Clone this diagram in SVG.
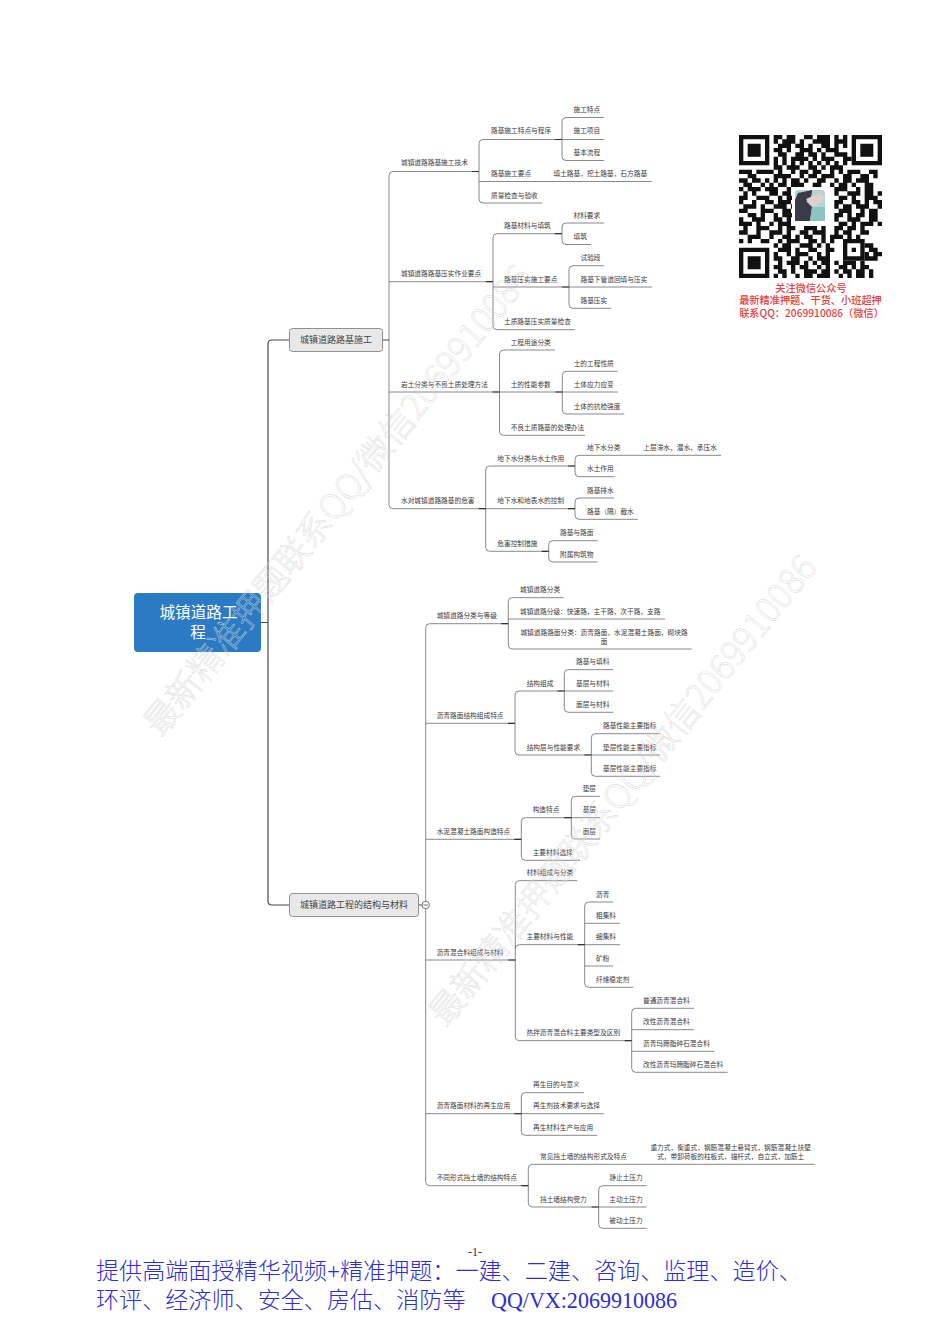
<svg xmlns="http://www.w3.org/2000/svg" width="950" height="1333" viewBox="0 0 950 1333">
<style>
text{font-family:"Noto Sans CJK SC","Liberation Sans",sans-serif}
.t{font-size:6.7px;fill:#3a3a3a}
.c{text-anchor:middle}
.l0{fill:none;stroke:#4a4a4a;stroke-width:1.2}
.l{fill:none;stroke:#6a6a6a;stroke-width:.8}
.s{fill:none;stroke:#333;stroke-width:1.2}
.m{font-size:9px;fill:#444}
.wm{font-size:34.5px;font-weight:300;fill:none;stroke:#d6d6d6;stroke-width:.5;opacity:.9}
.red{font-size:10.2px;fill:#e8403c;text-anchor:middle;font-weight:500}
.foot{font-family:"Liberation Serif","Noto Sans CJK SC",serif;font-size:23.1px;font-weight:300;fill:#2d2dd2}
</style>
<rect width="950" height="1333" fill="#fff"/>
<g id="connectors">
<path class="l0" d="M261 622.5H268M289 340H272Q268 340 268 344V901Q268 905 272 905H289M383 340H389M419 905H422"/>
<path class="l" d="M479 171.5H393Q389 171.5 389 175.5V504.7Q389 508.7 393 508.7H485.7M389 281.7H493M389 392H499.5"/>
<path class="l" d="M562 139.5H483Q479 139.5 479 143.5V199Q479 203 483 203H542M479 181.5H652"/>
<path class="l" d="M604 117.5H566Q562 117.5 562 121.5V156.5Q562 160.5 566 160.5H604M562 139.5H604"/>
<path class="l" d="M562 233.7H497Q493 233.7 493 237.7V325.7Q493 329.7 497 329.7H575M493 287H569"/>
<path class="l" d="M604 223H566Q562 223 562 227V240.5Q562 244.5 566 244.5H591"/>
<path class="l" d="M604 265.7H573Q569 265.7 569 269.7V304.3Q569 308.3 573 308.3H611M569 287H652"/>
<path class="l" d="M555 350H503.5Q499.5 350 499.5 354V431.3Q499.5 435.3 503.5 435.3H585M499.5 392H562.3"/>
<path class="l" d="M617.7 371.3H566.3Q562.3 371.3 562.3 375.3V410Q562.3 414 566.3 414H624.3M562.3 392H617.7"/>
<path class="l" d="M575 466H489.7Q485.7 466 485.7 470V547.3Q485.7 551.3 489.7 551.3H548.7M485.7 508.7H575"/>
<path class="l" d="M721 455.3H579Q575 455.3 575 459.3V472.7Q575 476.7 579 476.7H615"/>
<path class="l" d="M614 498H579Q575 498 575 502V515.3Q575 519.3 579 519.3H637.7"/>
<path class="l" d="M597.7 540.7H552.7Q548.7 540.7 548.7 544.7V558Q548.7 562 552.7 562H597.7"/>
<path class="l" d="M508.3 623.7H429.7Q425.7 623.7 425.7 627.7V1181.7Q425.7 1185.7 429.7 1185.7H528.3M425.7 723.3H515M425.7 839.3H521.3M425.7 960H515.3M425.7 1113.7H521.3"/>
<path class="l" d="M563.7 597.7H512.3Q508.3 597.7 508.3 601.7V645Q508.3 649 512.3 649H691.7M508.3 619H665"/>
<path class="l" d="M564.3 691H519Q515 691 515 695V751Q515 755 519 755H591.3"/>
<path class="l" d="M613.3 669.7H568.3Q564.3 669.7 564.3 673.7V708.3Q564.3 712.3 568.3 712.3H613.3M564.3 691H613.3"/>
<path class="l" d="M660 733.7H595.3Q591.3 733.7 591.3 737.7V772.3Q591.3 776.3 595.3 776.3H660M591.3 755H660"/>
<path class="l" d="M571.3 817.7H525.3Q521.3 817.7 521.3 821.7V856.3Q521.3 860.3 525.3 860.3H580"/>
<path class="l" d="M600 796.3H575.3Q571.3 796.3 571.3 800.3V835Q571.3 839 575.3 839H600M571.3 817.7H600"/>
<path class="l" d="M577.3 880.7H519.3Q515.3 880.7 515.3 884.7V1036.7Q515.3 1040.7 519.3 1040.7H631.7M515.3 948.7Q515.3 944.7 519.3 944.7H584.7"/>
<path class="l" d="M613.3 902H588.7Q584.7 902 584.7 906V983.3Q584.7 987.3 588.7 987.3H633.3M584.7 923.3H620M584.7 944.7H620M584.7 966H613.3"/>
<path class="l" d="M694 1008.3H635.7Q631.7 1008.3 631.7 1012.3V1068.3Q631.7 1072.3 635.7 1072.3H727.7M631.7 1029.7H694M631.7 1051.3H714.3"/>
<path class="l" d="M584 1092.7H525.3Q521.3 1092.7 521.3 1096.7V1131.3Q521.3 1135.3 525.3 1135.3H597.3M521.3 1113.7H604"/>
<path class="l" d="M815 1164.3H532.3Q528.3 1164.3 528.3 1168.3V1203Q528.3 1207 532.3 1207H598.7"/>
<path class="l" d="M646.7 1185.7H602.7Q598.7 1185.7 598.7 1189.7V1224.3Q598.7 1228.3 602.7 1228.3H646.7M598.7 1207H646.7"/>
<path class="s" d="M472 171.5H479M555 139.5H562M486 281.7H493M562 287H569M555 233.7H562M492.5 392H499.5M555.3 392H562.3M478.7 508.7H485.7M568 466H575M568 508.7H575M541.7 551.3H548.7M501.3 623.7H508.3M508 723.3H515M557.3 691H564.3M584.3 755H591.3M514.3 839.3H521.3M564.3 817.7H571.3M508.3 960H515.3M577.7 944.7H584.7M624.7 1040.7H631.7M514.3 1113.7H521.3M521.3 1185.7H528.3M591.7 1207H598.7"/>
</g>
<g id="root"><rect x="134" y="593" width="127" height="59" rx="4" fill="#2b7bc4"/>
<text class="c" x="198.5" y="617.5" font-size="15.6" fill="#fff">城镇道路工</text><text class="c" x="198" y="638" font-size="15.6" fill="#fff">程</text></g>
<g id="branch1"><rect x="289.5" y="328.5" width="93" height="23" rx="3" fill="#e8e8e8" stroke="#777" stroke-width=".8"/><text class="m" x="300" y="343.2">城镇道路路基施工</text></g>
<g id="branch2"><rect x="289.5" y="893.5" width="129" height="23" rx="3" fill="#e8e8e8" stroke="#777" stroke-width=".8"/><text class="m" x="300" y="908.2">城镇道路工程的结构与材料</text></g>
<g id="toggle"><circle cx="425.7" cy="905" r="3.7" fill="#fff" stroke="#555" stroke-width=".8"/><path d="M423.4 905H428" stroke="#555" stroke-width=".8"/></g>

<g id="a1"><text class="t" x="401" y="165.2">城镇道路路基施工技术</text></g>
<g id="a11"><text class="t" x="491" y="133.3">路基施工特点与程序</text></g>
<g id="a111"><text class="t" x="573.5" y="112">施工特点</text></g>
<g id="a112"><text class="t" x="573.5" y="133.3">施工项目</text></g>
<g id="a113"><text class="t" x="573.5" y="154.7">基本流程</text></g>
<g id="a12"><text class="t" x="491" y="176">路基施工要点</text></g>
<g id="a121"><text class="t" x="553.5" y="176">填土路基，挖土路基，石方路基</text></g>
<g id="a13"><text class="t" x="491" y="197.5">质量检查与验收</text></g>
<g id="a2"><text class="t" x="401" y="276">城镇道路路基压实作业要点</text></g>
<g id="a21"><text class="t" x="504" y="228">路基材料与填筑</text></g>
<g id="a211"><text class="t" x="573.5" y="217.5">材料要求</text></g>
<g id="a212"><text class="t" x="573.5" y="239">填筑</text></g>
<g id="a22"><text class="t" x="504" y="281.5">路基压实施工要点</text></g>
<g id="a221"><text class="t" x="580.5" y="260">试验段</text></g>
<g id="a222"><text class="t" x="580.5" y="281.5">路基下管道回填与压实</text></g>
<g id="a223"><text class="t" x="580.5" y="302.7">路基压实</text></g>
<g id="a23"><text class="t" x="504" y="324">土质路基压实质量检查</text></g>
<g id="a3"><text class="t" x="401" y="386.5">岩土分类与不良土质处理方法</text></g>
<g id="a31"><text class="t" x="510.7" y="344.5">工程用途分类</text></g>
<g id="a32"><text class="t" x="510.7" y="386.5">土的性能参数</text></g>
<g id="a321"><text class="t" x="573.7" y="365.7">土的工程性质</text></g>
<g id="a322"><text class="t" x="573.7" y="386.5">土体应力应变</text></g>
<g id="a323"><text class="t" x="573.7" y="408.5">土体的抗检强度</text></g>
<g id="a33"><text class="t" x="510.7" y="429.7">不良土质路基的处理办法</text></g>
<g id="a4"><text class="t" x="401" y="503">水对城镇道路路基的危害</text></g>
<g id="a41"><text class="t" x="497.3" y="460.5">地下水分类与水土作用</text></g>
<g id="a411"><text class="t" x="587" y="449.7">地下水分类</text></g>
<g id="a412"><text class="t" x="643.3" y="449.7">上层滞水，潜水，承压水</text></g>
<g id="a413"><text class="t" x="587" y="471">水土作用</text></g>
<g id="a42"><text class="t" x="497.3" y="503">地下水和地表水的控制</text></g>
<g id="a421"><text class="t" x="587" y="492.5">路基排水</text></g>
<g id="a422"><text class="t" x="587" y="513.7">路基（隔）截水</text></g>
<g id="a43"><text class="t" x="497.3" y="545.7">危害控制措施</text></g>
<g id="a431"><text class="t" x="560" y="535">路基与路面</text></g>
<g id="a432"><text class="t" x="560" y="556.5">附属构筑物</text></g>

<g id="b1"><text class="t" x="436.7" y="618">城镇道路分类与等级</text></g>
<g id="b11"><text class="t" x="520" y="592">城镇道路分类</text></g>
<g id="b12"><text class="t" x="520" y="613.5">城镇道路分级：快速路，主干路，次干路，支路</text></g>
<g id="b13"><text class="t c" x="604" y="634.7">城镇道路路面分类：沥青路面，水泥混凝土路面，砌块路</text><text class="t c" x="604" y="644">面</text></g>
<g id="b2"><text class="t" x="436.7" y="717.7">沥青路面结构组成特点</text></g>
<g id="b21"><text class="t" x="526.7" y="685.5">结构组成</text></g>
<g id="b211"><text class="t" x="576" y="664">路基与填料</text></g>
<g id="b212"><text class="t" x="576" y="685.5">基层与材料</text></g>
<g id="b213"><text class="t" x="576" y="706.7">面层与材料</text></g>
<g id="b22"><text class="t" x="526.7" y="749.5">结构层与性能要求</text></g>
<g id="b221"><text class="t" x="603" y="728">路基性能主要指标</text></g>
<g id="b222"><text class="t" x="603" y="749.5">垫层性能主要指标</text></g>
<g id="b223"><text class="t" x="603" y="770.7">基层性能主要指标</text></g>
<g id="b3"><text class="t" x="436.7" y="833.7">水泥混凝土路面构造特点</text></g>
<g id="b31"><text class="t" x="532.7" y="812">构造特点</text></g>
<g id="b311"><text class="t" x="582.7" y="790.7">垫层</text></g>
<g id="b312"><text class="t" x="582.7" y="812">基层</text></g>
<g id="b313"><text class="t" x="582.7" y="833.5">面层</text></g>
<g id="b32"><text class="t" x="532.7" y="854.7">主要材料选择</text></g>
<g id="b4"><text class="t" x="436.7" y="954.5">沥青混合料组成与材料</text></g>
<g id="b41"><text class="t" x="526.5" y="875">材料组成与分类</text></g>
<g id="b42"><text class="t" x="526.5" y="939">主要材料与性能</text></g>
<g id="b421"><text class="t" x="596" y="896.5">沥青</text></g>
<g id="b422"><text class="t" x="596" y="917.7">粗集料</text></g>
<g id="b423"><text class="t" x="596" y="939">细集料</text></g>
<g id="b424"><text class="t" x="596" y="960.5">矿粉</text></g>
<g id="b425"><text class="t" x="596" y="981.7">纤维稳定剂</text></g>
<g id="b43"><text class="t" x="526.5" y="1035">热拌沥青混合料主要类型及区别</text></g>
<g id="b431"><text class="t" x="643" y="1002.7">普通沥青混合料</text></g>
<g id="b432"><text class="t" x="643" y="1024">改性沥青混合料</text></g>
<g id="b433"><text class="t" x="643" y="1045.7">沥青玛蹄脂碎石混合料</text></g>
<g id="b434"><text class="t" x="643" y="1066.7">改性沥青玛蹄脂碎石混合料</text></g>
<g id="b5"><text class="t" x="436.7" y="1108">沥青路面材料的再生应用</text></g>
<g id="b51"><text class="t" x="533" y="1087">再生目的与意义</text></g>
<g id="b52"><text class="t" x="533" y="1108">再生剂技术要求与选择</text></g>
<g id="b53"><text class="t" x="533" y="1129.7">再生材料生产与应用</text></g>
<g id="b6"><text class="t" x="436.7" y="1180">不同形式挡土墙的结构特点</text></g>
<g id="b61"><text class="t" x="540" y="1158.7">常见挡土墙的结构形式及特点</text></g>
<g id="b611"><text class="t c" x="730.7" y="1149.7">重力式，衡重式，钢筋混凝土悬臂式，钢筋混凝土扶壁</text><text class="t c" x="730.7" y="1159">式，带卸荷板的柱板式，锚杆式，自立式，加筋土</text></g>
<g id="b62"><text class="t" x="540" y="1201.5">挡土墙结构受力</text></g>
<g id="b621"><text class="t" x="609.3" y="1180">静止土压力</text></g>
<g id="b622"><text class="t" x="609.3" y="1201.5">主动土压力</text></g>
<g id="b623"><text class="t" x="609.3" y="1222.7">被动土压力</text></g>

<g id="qr" transform="translate(739 135) scale(4.333)" fill="none" stroke="#111" stroke-width="1">
<path d="M.5 .5h6v6h-6zM26.5 .5h6v6h-6zM.5 26.5h6v6h-6zM24.5 24.5h4v4h-4z"/>
<path fill="#111" stroke="none" d="M2 2h3v3h-3zM28 2h3v3h-3zM2 28h3v3h-3zM26 26h1v1h-1z"/>
<path d="M8 .5h2m1 0h2m2 0h2m1 0h3m1 0h1m1 0h1
M8 1.5h1m1 0h3m1 0h1m2 0h4m1 0h3
M9 2.5h3m1 0h2m1 0h1m2 0h2m1 0h1m1 0h1
M8 3.5h2m1 0h1m2 0h3m1 0h1m1 0h3
M9 4.5h2m2 0h2m1 0h2m1 0h1m2 0h3
M8 5.5h1m1 0h1m1 0h4m1 0h1m1 0h3m2 0h2
M8 6.5h1m1 0h1m1 0h1m1 0h1m1 0h1m1 0h1m1 0h1m1 0h1m1 0h1
M8 7.5h2m1 0h3m2 0h2m1 0h1m1 0h3
M0 8.5h3m1 0h4m1 0h1m2 0h1m1 0h2m1 0h2m2 0h1m1 0h1m1 0h3m2 0h2
M2 9.5h2m4 0h4m2 0h1m1 0h2m1 0h3m2 0h2m2 0h2m1 0h1
M0 10.5h2m1 0h2m1 0h1m1 0h1m1 0h1m1 0h2m1 0h1m2 0h2m2 0h1m1 0h2m1 0h3
M1 11.5h2m2 0h1m1 0h1m1 0h2m1 0h3m2 0h2m2 0h1m1 0h2m1 0h1m2 0h2
M0 12.5h1m1 0h3m1 0h3m2 0h1m1 0h2M22 12.5h3m2 0h1m1 0h2
M1 13.5h1m1 0h1m3 0h2m1 0h2M22 13.5h1m2 0h3m1 0h2m1 0h1
M0 14.5h2m2 0h3m2 0h1m1 0h2M23 14.5h2m1 0h1m2 0h3
M0 15.5h1m2 0h1m2 0h2m1 0h3M22 15.5h2m2 0h2m1 0h1m1 0h2
M1 16.5h3m1 0h1m2 0h3m1 0h1M22 16.5h1m1 0h2m1 0h3m2 0h1
M0 17.5h2m3 0h3m2 0h2M23 17.5h3m2 0h1m1 0h2
M2 18.5h2m1 0h1m2 0h1m1 0h3M22 18.5h2m1 0h1m1 0h2m1 0h2
M0 19.5h1m2 0h3m2 0h2m1 0h1M22 19.5h1m2 0h3m2 0h2
M0 20.5h3m1 0h1m2 0h1m1 0h3M23 20.5h2m1 0h1m1 0h3m1 0h1
M1 21.5h1m2 0h3m2 0h1m1 0h2m2 0h3m1 0h1m2 0h2m1 0h2m1 0h1
M0 22.5h2m2 0h1m2 0h3m1 0h1m2 0h2m1 0h3m2 0h1m1 0h2m2 0h2
M2 23.5h3m2 0h1m2 0h2m1 0h1m1 0h2m2 0h1m1 0h3m1 0h1m1 0h1
M0 24.5h1m1 0h1m2 0h2m2 0h1m1 0h3m2 0h2m1 0h1m1 0h1
M8 25.5h1m1 0h2m2 0h3m1 0h1m1 0h1M29 25.5h2
M9 26.5h3m1 0h1m2 0h2m2 0h2M30 26.5h2
M8 27.5h1m2 0h1m1 0h3m2 0h1m1 0h1M29 27.5h1m1 0h2
M8 28.5h2m2 0h2m2 0h1m1 0h3M29 28.5h3
M9 29.5h1m1 0h3m1 0h1m1 0h1m1 0h2m1 0h1m1 0h3m1 0h1
M8 30.5h2m2 0h1m1 0h2m2 0h1m1 0h1m2 0h2m1 0h1m1 0h2
M9 31.5h2m1 0h1m2 0h3m1 0h2m1 0h1m1 0h2m1 0h2m1 0h1
M8 32.5h1m1 0h1m2 0h1m1 0h2m1 0h3m2 0h1m1 0h1m1 0h2m1 0h1"/>
</g>
<g id="avatar"><rect x="792" y="187" width="36" height="37" rx="5" fill="#fff"/>
<rect x="795" y="190" width="30" height="31" rx="3" fill="#b4d3d8"/>
<path d="M798 193L812 190Q812 200 806 201L812 207L810 221H795V200Z" fill="#3a3a48"/>
<path d="M806 199L820 193L824 197Q820 207 812 206Z" fill="#e0cfca"/>
<path d="M812 207H825V221H810Z" fill="#8cc4c2"/></g>
<g id="qr-caption">
<text class="red" x="811" y="292">关注微信公众号</text>
<text class="red" x="810.5" y="304.3">最新精准押题、干货、小班超押</text>
<text class="red" x="811.5" y="317">联系QQ：2069910086（微信）</text></g>
<g id="footer">
<text x="475" y="1256" text-anchor="middle" font-size="12" fill="#333" style="font-family:'Liberation Serif',serif">-1-</text>
<text class="foot" x="96" y="1279">提供高端面授精华视频+精准押题：一建、二建、咨询、监理、造价、</text>
<text class="foot" x="96" y="1308">环评、经济师、安全、房估、消防等</text>
<text class="foot" x="491" y="1308" textLength="186" lengthAdjust="spacingAndGlyphs">QQ/VX:2069910086</text></g>
<g id="watermarks">
<text class="wm" transform="translate(161 738) rotate(-51)" textLength="592">最新精准押题联系QQ/微信2069910086</text>
<text class="wm" transform="translate(446 1028) rotate(-51)" textLength="592">最新精准押题联系QQ/微信2069910086</text>
</g>
</svg>
